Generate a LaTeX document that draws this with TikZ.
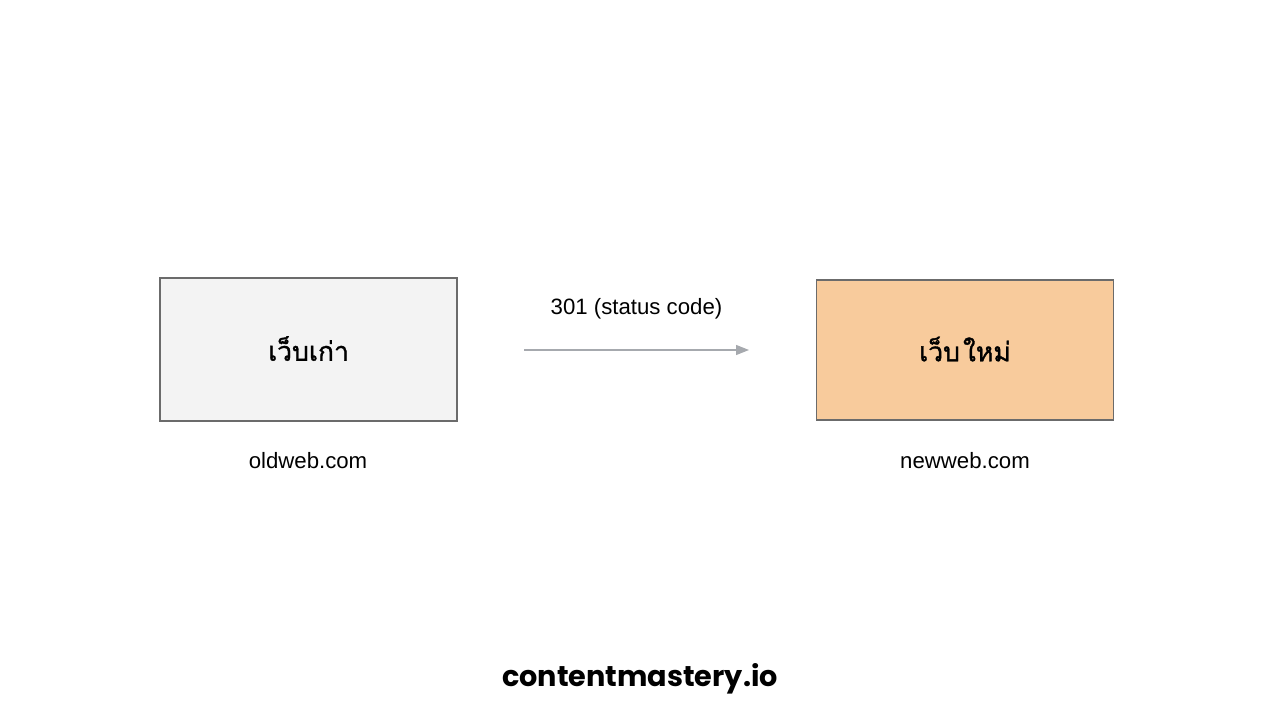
\documentclass[tikz,border=0pt]{standalone}
\usepackage{fontspec}
\setmainfont{Liberation Sans}
\newfontfamily\thaifont[Script=Thai, FakeBold=1.2]{Loma}
\newfontfamily\brandfont{Poppins}
\usetikzlibrary{arrows.meta}
\definecolor{oldfill}{HTML}{F3F3F3}
\definecolor{newfill}{HTML}{F8CB9C}
\definecolor{boxline}{HTML}{6B6B6B}
\definecolor{arrowgray}{HTML}{A6A9AE}
\tikzset{
  sitebox/.style={draw=boxline, line width=1.2pt, minimum width=297pt, minimum height=143pt, inner sep=0pt, font=\thaifont\fontsize{26.5}{32}\selectfont},
  urllabel/.style={font=\fontsize{22.2}{26}\selectfont, inner sep=0pt},
  link/.style={draw=arrowgray, line width=1.2pt, -{Triangle[length=13pt,width=10pt]}}
}
\begin{document}
\begin{tikzpicture}[x=1pt,y=-1pt]
\useasboundingbox (0,0) rectangle (1280,720);
\fill[white] (0,0) rectangle (1280,720);
\node[sitebox, fill=oldfill] (old) at (308.5,349.5) {\raisebox{2pt}{เว็บเก่า}};
\node[sitebox, fill=newfill, minimum height=140pt] (new) at (965,350) {\raisebox{2pt}{เว็บ\hspace{3pt}ใหม่}};
\coordinate (a1) at (524,350);
\coordinate (a2) at (749,350);
\draw[link] (a1) -- (a2);
\node[urllabel] (code) at (636.5,309) {301 (status code)};
\node[urllabel] (oldurl) at (308,461) {oldweb.com};
\node[urllabel] (newurl) at (965,461) {newweb.com};
\node[font=\brandfont\bfseries\fontsize{28.7}{34}\selectfont, inner sep=0pt] (brand) at (640,679) {contentmastery.io};
\end{tikzpicture}
\end{document}
